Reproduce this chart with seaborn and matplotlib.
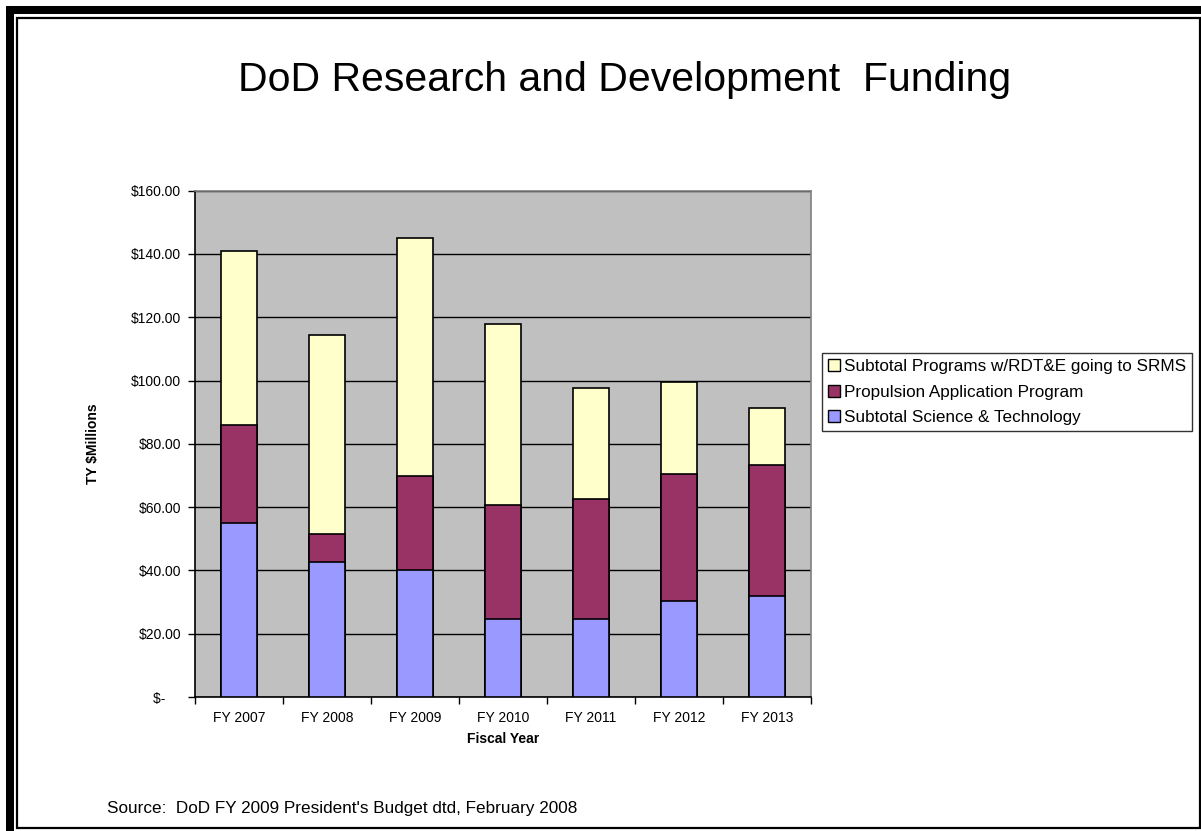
import matplotlib
matplotlib.use("Agg")
import matplotlib.pyplot as plt
from matplotlib.patches import Patch, Rectangle
from matplotlib.ticker import FixedLocator
import numpy as np
import pandas as pd
import seaborn as sns

# Data ($ millions)
years = ["FY 2007", "FY 2008", "FY 2009", "FY 2010", "FY 2011", "FY 2012", "FY 2013"]
science_tech = [55.1, 42.6, 40.2, 24.8, 24.7, 30.3, 32.0]
propulsion = [30.9, 8.8, 29.7, 36.0, 38.0, 40.1, 41.3]
programs_srms = [54.9, 62.9, 75.0, 57.0, 35.1, 29.1, 18.0]

series_names = ["Subtotal Programs w/RDT&E going to SRMS",
                "Propulsion Application Program",
                "Subtotal Science & Technology"]
colors = ["#FFFFCC", "#993366", "#9999FF"]

y_ticks = [0, 20, 40, 60, 80, 100, 120, 140, 160]
y_labels = ["$-    "] + ["${:.2f}".format(v) for v in y_ticks[1:]]

sns.set_style("white")
plt.rcParams["font.family"] = ["Liberation Sans", "DejaVu Sans"]
plt.rcParams["text.color"] = "black"
plt.rcParams["axes.labelcolor"] = "black"
plt.rcParams["xtick.color"] = "black"
plt.rcParams["ytick.color"] = "black"

W, H = 1201, 831
fig = plt.figure(figsize=(W / 100, H / 100), dpi=100)
ax = fig.add_axes([195 / W, 1 - 697 / H, 616 / W, 506.3 / H])
ax.set_facecolor("#C0C0C0")

# stacked bars via cumulative totals, drawn tallest first
df = pd.DataFrame({"year": years,
                   "sci": science_tech,
                   "prop": propulsion,
                   "prog": programs_srms})
df["lvl1"] = df["sci"]
df["lvl2"] = df["sci"] + df["prop"]
df["lvl3"] = df["lvl2"] + df["prog"]

for col, c in zip(["lvl3", "lvl2", "lvl1"], colors):
    sns.barplot(data=df, x="year", y=col, color=c, saturation=1, width=0.4,
                edgecolor="black", linewidth=1.2, errorbar=None, ax=ax, zorder=3)

ax.set_xlim(-0.5, len(years) - 0.5)
ax.set_ylim(0, 160)
ax.set_yticks(y_ticks)
ax.set_yticklabels(y_labels)
ax.yaxis.grid(True, color="black", linewidth=1, zorder=1)
ax.set_axisbelow(True)

ax.xaxis.set_minor_locator(FixedLocator(np.arange(-0.5, len(years), 1.0)))
ax.tick_params(axis="x", which="major", length=0, labelsize=10, pad=10)
ax.tick_params(axis="x", which="minor", length=5, width=1, color="black", direction="out")
ax.tick_params(axis="y", length=5, width=1, color="black", direction="out", labelsize=10, pad=5)
ax.tick_params(bottom=True, left=True, which="both")

for s in ["top", "right"]:
    ax.spines[s].set_color("#808080")
    ax.spines[s].set_linewidth(1.2)
for s in ["left", "bottom"]:
    ax.spines[s].set_color("black")
    ax.spines[s].set_linewidth(1.2)

ax.set_xlabel("Fiscal Year", fontsize=10, fontweight="bold", labelpad=5)
ax.set_ylabel("TY $Millions", fontsize=10, fontweight="bold", labelpad=22)

handles = [Patch(facecolor=c, edgecolor="black", linewidth=1) for c in colors]
leg = fig.legend(handles, series_names, loc="upper left",
                 bbox_to_anchor=(822 / W, 1 - 353 / H), fontsize=12.3,
                 frameon=True, fancybox=False, handlelength=0.7, handleheight=0.7,
                 handletextpad=0.25, borderpad=0.35, labelspacing=0.62, borderaxespad=0)
leg.get_frame().set_edgecolor("black")
leg.get_frame().set_linewidth(1)

fig.text(625 / W, 1 - 80 / H, "DoD Research and Development  Funding",
         ha="center", va="center", fontsize=29.5)
fig.text(107 / W, 1 - 809 / H,
         "Source:  DoD FY 2009 President's Budget dtd, February 2008",
         ha="left", va="center", fontsize=12.3)

# slide frame: thick black band top/left, thin inner rectangle
fig.patches.append(Rectangle((6 / W, 1 - 14 / H), 1 - 6 / W, 8 / H,
                             transform=fig.transFigure, facecolor="black",
                             edgecolor="none", zorder=10))
fig.patches.append(Rectangle((6 / W, 0), 8 / W, 1 - 6 / H,
                             transform=fig.transFigure, facecolor="black",
                             edgecolor="none", zorder=10))
fig.patches.append(Rectangle((17 / W, 1 - 828 / H), 1182.5 / W, 810 / H,
                             transform=fig.transFigure, facecolor="none",
                             edgecolor="black", linewidth=1.6, zorder=10))

fig.savefig("out.png", dpi=100)
